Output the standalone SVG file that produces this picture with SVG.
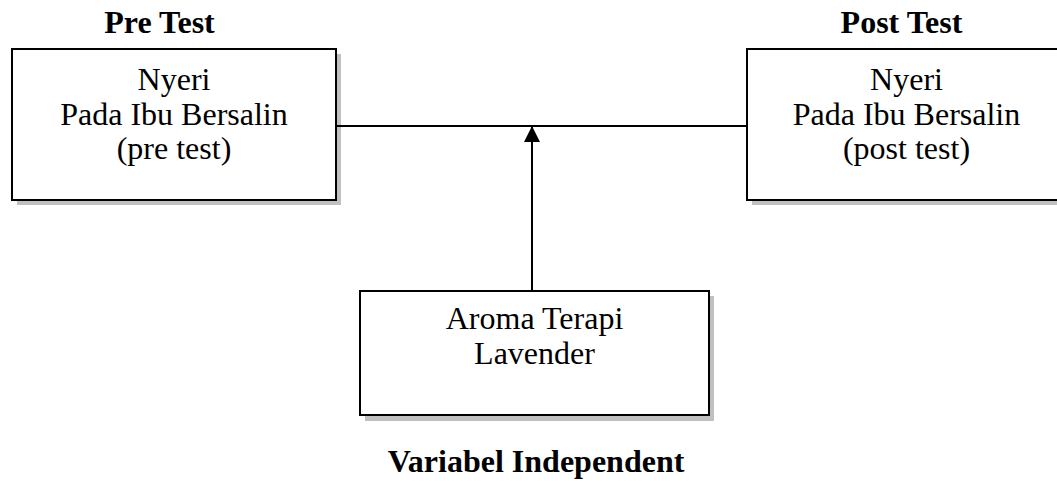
<svg xmlns="http://www.w3.org/2000/svg" width="1057" height="481" viewBox="0 0 1057 481">
  <style>
    .box { fill: #ffffff; stroke: #000000; stroke-width: 2; }
    .shadow { fill: #c0c0c0; stroke: none; }
    .txt { font-family: "Liberation Serif", "Times New Roman", serif; font-size: 32px; fill: #000000; text-anchor: middle; }
    .title { font-family: "Liberation Serif", "Times New Roman", serif; font-size: 32px; font-weight: bold; fill: #000000; text-anchor: middle; }
    .line { stroke: #000000; stroke-width: 2; fill: none; }
  </style>
  <defs>
    <marker id="arrow" viewBox="0 0 16 16" refX="15" refY="8" markerWidth="16" markerHeight="16" markerUnits="userSpaceOnUse" orient="auto">
      <path d="M0,0 L16,8 L0,16 Z" fill="#000000"/>
    </marker>
  </defs>
  <rect width="1057" height="481" fill="#ffffff"/>

  <text class="title" x="159.5" y="33">Pre Test</text>
  <text class="title" x="901.5" y="33">Post Test</text>
  <text class="title" x="536" y="472">Variabel Independent</text>

  <g id="node-pre">
    <rect class="shadow" x="17" y="54" width="324" height="151"/>
    <rect class="box" x="12" y="49" width="324" height="151"/>
    <text class="txt" x="174" y="90">Nyeri</text>
    <text class="txt" x="174" y="124.5">Pada Ibu Bersalin</text>
    <text class="txt" x="174" y="159">(pre test)</text>
  </g>

  <g id="node-post">
    <rect class="shadow" x="752" y="54" width="320" height="151"/>
    <rect class="box" x="747" y="49" width="320" height="151"/>
    <text class="txt" x="906.5" y="90">Nyeri</text>
    <text class="txt" x="906.5" y="124.5">Pada Ibu Bersalin</text>
    <text class="txt" x="906.5" y="159">(post test)</text>
  </g>

  <g id="node-intervention">
    <rect class="shadow" x="365" y="296" width="349" height="125"/>
    <rect class="box" x="360" y="291" width="349" height="124"/>
    <text class="txt" x="534.5" y="329">Aroma Terapi</text>
    <text class="txt" x="534.5" y="364">Lavender</text>
  </g>

  <g id="connectors">
    <line class="line" x1="336" y1="126" x2="747" y2="126"/>
    <line class="line" x1="532" y1="290" x2="532" y2="127" marker-end="url(#arrow)"/>
  </g>
</svg>
